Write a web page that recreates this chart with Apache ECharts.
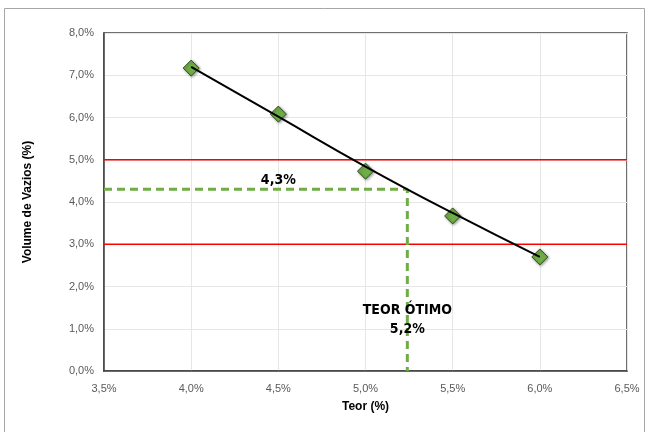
<!DOCTYPE html>
<html><head><meta charset="utf-8">
<script src="https://cdn.jsdelivr.net/npm/echarts@6/dist/echarts.min.js"></script>
<style>html,body{margin:0;padding:0;background:#fff}#c{width:649px;height:432px}</style>
</head><body><div id="c"></div>
<script>
const teor = [4.0, 4.5, 5.0, 5.5, 6.0];
const vazios = [7.17, 6.08, 4.73, 3.67, 2.70];
const trendTeor = [4.0, 4.5, 5.0, 5.5, 6.0];
const trendVazios = [7.20, 6.02, 4.84, 3.74, 2.70];
const limits = [5.0, 3.0];
const optTeor = 5.24;
const optVazios = 4.3;
const xMin = 3.5, xMax = 6.5, yMin = 0, yMax = 8;
const labelOpt = 'TEOR ÓTIMO\n5,2%';
const labelVaz = '4,3%';

const fmt = v => v.toFixed(1).replace('.', ',') + '%';
const chart = echarts.init(document.getElementById('c'));
const font = 'Liberation Sans';
const narrow = 'DejaVu Sans Condensed, Liberation Sans';
chart.setOption({
  animation: false,
  graphic: [{type:'rect', shape:{x:4.5,y:8.5,width:640,height:430}, style:{fill:'none', stroke:'#a6a6a6', lineWidth:1}, silent:true, z:-1}],
  grid: {left:104, right:22, top:33, bottom:61, show:true, borderColor:'#404040', borderWidth:1.5},
  xAxis: {type:'value', min:xMin, max:xMax, interval:0.5,
    name:'Teor (%)', nameLocation:'middle', nameGap:30,
    nameTextStyle:{fontFamily:font, fontWeight:'bold', fontSize:12, color:'#000'},
    axisLine:{show:true, lineStyle:{color:'#404040', width:1.5}}, axisTick:{show:false},
    axisLabel:{formatter:fmt, color:'#595959', fontFamily:font, fontSize:11, margin:12},
    splitLine:{show:true, lineStyle:{color:'#e6e6e6'}}},
  yAxis: {type:'value', min:yMin, max:yMax, interval:1,
    name:'Volume de Vazios (%)', nameLocation:'middle', nameGap:70,
    nameTextStyle:{fontFamily:font, fontWeight:'bold', fontSize:12, color:'#000'},
    axisLine:{show:true, lineStyle:{color:'#404040', width:1.5}}, axisTick:{show:false},
    axisLabel:{formatter:fmt, color:'#595959', fontFamily:font, fontSize:11, margin:10},
    splitLine:{show:true, lineStyle:{color:'#e6e6e6'}}},
  series: [
    {type:'line', data:[[xMin,limits[0]],[xMax,limits[0]]], showSymbol:false, lineStyle:{color:'#ff0000', width:1.5}, z:2},
    {type:'line', data:[[xMin,limits[1]],[xMax,limits[1]]], showSymbol:false, lineStyle:{color:'#ff0000', width:1.5}, z:2},
    {type:'line', data:[[xMin,optVazios],[optTeor,optVazios],[optTeor,yMin]], showSymbol:false,
      lineStyle:{color:'#70ad47', width:3, type:[8,5]}, z:3},
    {type:'line', data: trendTeor.map((x,i)=>[x,trendVazios[i]]), smooth:true, showSymbol:false,
      lineStyle:{color:'#000', width:2}, z:5},
    {type:'scatter', data: teor.map((x,i)=>[x,vazios[i]]), symbol:'diamond', symbolSize:[16,16],
      itemStyle:{opacity:1, color:'#70ad47', borderColor:'#2f4f1f', borderWidth:1, shadowBlur:3, shadowColor:'rgba(0,0,0,0.4)', shadowOffsetX:1, shadowOffsetY:1}, z:4},
    {type:'scatter', data:[[4.5, optVazios]], symbolSize:0, silent:true, itemStyle:{opacity:1},
      label:{show:true, formatter:labelVaz, position:'top', distance:2, fontFamily:narrow, fontWeight:'bold', fontSize:14, color:'#000'}, z:6},
    {type:'scatter', data:[[optTeor, 1.2]], symbolSize:0, silent:true, itemStyle:{opacity:1},
      label:{show:true, formatter:labelOpt, position:'inside', lineHeight:19, fontFamily:narrow, fontWeight:'bold', fontSize:14, color:'#000'}, z:6}
  ]
});
</script></body></html>
